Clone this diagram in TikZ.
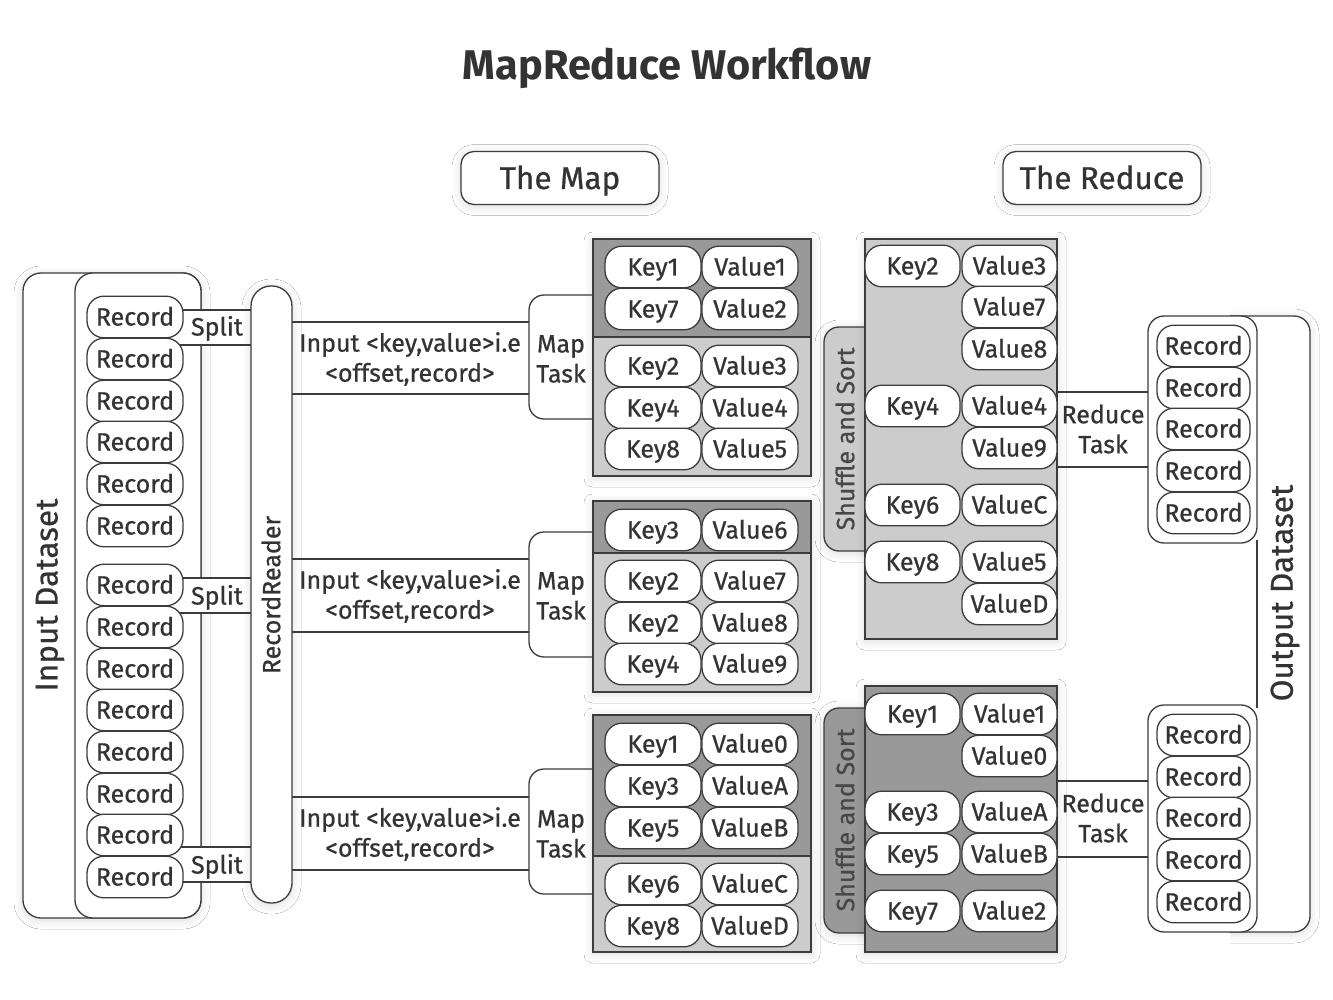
\documentclass[tikz,border=0pt]{standalone}
\usepackage{fontspec}
\setmainfont{Fira Sans}[UprightFeatures={FakeBold=0.7}]
\usetikzlibrary{shadows.blur}
\definecolor{lnc}{HTML}{3C3C3C}
\definecolor{txt}{HTML}{333333}
\definecolor{dk}{HTML}{999999}
\definecolor{lt}{HTML}{CCCCCC}
\begin{document}
\begin{tikzpicture}[x=1pt,y=-1pt,
  every node/.style={font=\fontsize{25}{30}\selectfont, text=txt, inner sep=0pt, align=center},
  stroke/.style={draw=lnc, line width=1.3pt},
  shd/.style={blur shadow={shadow blur steps=8, shadow xshift=0pt, shadow yshift=-2pt, shadow blur radius=9pt, shadow opacity=14}},
  pill/.style={stroke, fill=white, rounded corners=17pt, minimum height=41.6pt, minimum width=96pt, text height=17pt, text depth=0pt},
  rpill/.style={pill, minimum width=95pt},
  opill/.style={pill, minimum width=93pt},
  big/.style={font=\fontsize{31.5}{34}\selectfont},
  header/.style={stroke, fill=white, rounded corners=13pt, minimum width=198pt, minimum height=53pt, big, text height=22pt, text depth=0pt, shd}
]
\useasboundingbox (0,0) rectangle (1333,1000);
\fill[white] (0,0) rectangle (1333,1000);

% title and headers
\node[font=\fontsize{41.5}{44}\selectfont\bfseries] (title) at (667,68) {MapReduce Workflow};
\node[header] (themap) at (560,178) {The Map};
\node[header] (thereduce) at (1102,178) {The Reduce};

% input dataset
\draw[stroke, fill=white, rounded corners=18pt, shd] (23,273) rectangle (201,918);
\draw[stroke, fill=white, rounded corners=18pt] (75,273) rectangle (201,918);
\node[rotate=90, big] (inds) at (50,595) {Input Dataset};

% splits
\foreach \a/\b/\c [count=\i] in {310/345/327, 578/613/596, 847/882/865}{
  \filldraw[stroke, fill=white] (160,\a) -- (260,\a) -- (260,\b) -- (160,\b);
  \node[text height=17pt, text depth=0pt] (split\i) at (217,\c) {Split};
}

% records
\foreach \y [count=\i] in {317,359,401,442,484,526,585,627,669,710,752,794,835,877}{
  \node[pill] (rec\i) at (135,\y) {Record};
}

% input labels
\foreach \a/\b/\c [count=\i] in {322/394/359, 559/632/596, 797/870/834}{
  \filldraw[stroke, fill=white] (280,\a) rectangle (540,\b);
  \node (inlab\i) at (410,\c) {Input <key,value>i.e\\<offset,record>};
}

% record reader
\draw[stroke, fill=white, rounded corners=20pt, shd] (251,286) rectangle (292,903);
\node[rotate=90] (rr) at (271,595) {RecordReader};

% map tasks
\foreach \a/\b/\c [count=\i] in {295/419/359, 532/657/596, 769/894/834}{
  \filldraw[stroke, fill=white, rounded corners=15pt] (610,\a) -- (529,\a) -- (529,\b) -- (610,\b);
  \node (mt\i) at (561,\c) {Map\\Task};
}

% map outputs
\filldraw[stroke, fill=lt, shd] (593,239) rectangle (811,476);
\filldraw[stroke, fill=dk] (593,239) rectangle (811,337);
\filldraw[stroke, fill=lt, shd] (593,501) rectangle (811,692);
\filldraw[stroke, fill=dk] (593,501) rectangle (811,553);
\filldraw[stroke, fill=lt, shd] (593,715) rectangle (811,952);
\filldraw[stroke, fill=dk] (593,715) rectangle (811,856);

\foreach \y/\k/\v [count=\i] in {267/Key1/Value1, 309/Key7/Value2, 366/Key2/Value3, 408/Key4/Value4, 449/Key8/Value5,
  530/Key3/Value6, 581/Key2/Value7, 623/Key2/Value8, 664/Key4/Value9,
  744/Key1/Value0, 786/Key3/ValueA, 828/Key5/ValueB, 884/Key6/ValueC, 926/Key8/ValueD}{
  \node[pill] (mk\i) at (653,\y) {\k};
  \node[pill] (mv\i) at (750,\y) {\v};
}

% output dataset outer
\filldraw[stroke, fill=white, rounded corners=16pt, shd] (1230,316) -- (1310,316) -- (1310,932) -- (1230,932);
\draw[stroke] (1257,540) -- (1257,708);
\node[rotate=90, big] (outds) at (1285,593) {Output Dataset};

% reduce tasks
\filldraw[stroke, fill=white] (1040,392) rectangle (1160,467);
\node (rt1) at (1103,429) {Reduce\\Task};
\filldraw[stroke, fill=white] (1040,781) rectangle (1160,857);
\node (rt2) at (1103,818) {Reduce\\Task};

% shuffle tabs
\filldraw[stroke, fill=lt, rounded corners=15pt, shd] (880,327) -- (824,327) -- (824,551) -- (880,551);
\node[rotate=90, text=txt!90] (ss1) at (845,439) {Shuffle and Sort};
\filldraw[stroke, fill=dk, rounded corners=15pt, shd] (880,708) -- (824,708) -- (824,933) -- (880,933);
\node[rotate=90, text=txt!90] (ss2) at (845,820) {Shuffle and Sort};

% shuffle main boxes
\filldraw[stroke, fill=lt, shd] (865,239) rectangle (1057,639);
\filldraw[stroke, fill=dk, shd] (865,686) rectangle (1057,952);

\foreach \y/\k [count=\i] in {266/Key2, 406/Key4, 505/Key6, 562/Key8, 714/Key1, 812/Key3, 854/Key5, 911/Key7}{
  \node[rpill] (rk\i) at (912.5,\y) {\k};
}
\foreach \y/\v [count=\i] in {266/Value3, 307/Value7, 349/Value8, 406/Value4, 448/Value9, 505/ValueC, 562/Value5, 604/ValueD,
  714/Value1, 756/Value0, 812/ValueA, 854/ValueB, 911/Value2}{
  \node[rpill] (rv\i) at (1009.5,\y) {\v};
}

% output inner boxes
\draw[stroke, fill=white, rounded corners=16pt] (1148,316) rectangle (1257,543);
\draw[stroke, fill=white, rounded corners=16pt] (1148,705) rectangle (1257,932);
\foreach \y [count=\i] in {346,388,429,471,513,735,777,818,860,902}{
  \node[opill] (orec\i) at (1203.5,\y) {Record};
}
\end{tikzpicture}
\end{document}
